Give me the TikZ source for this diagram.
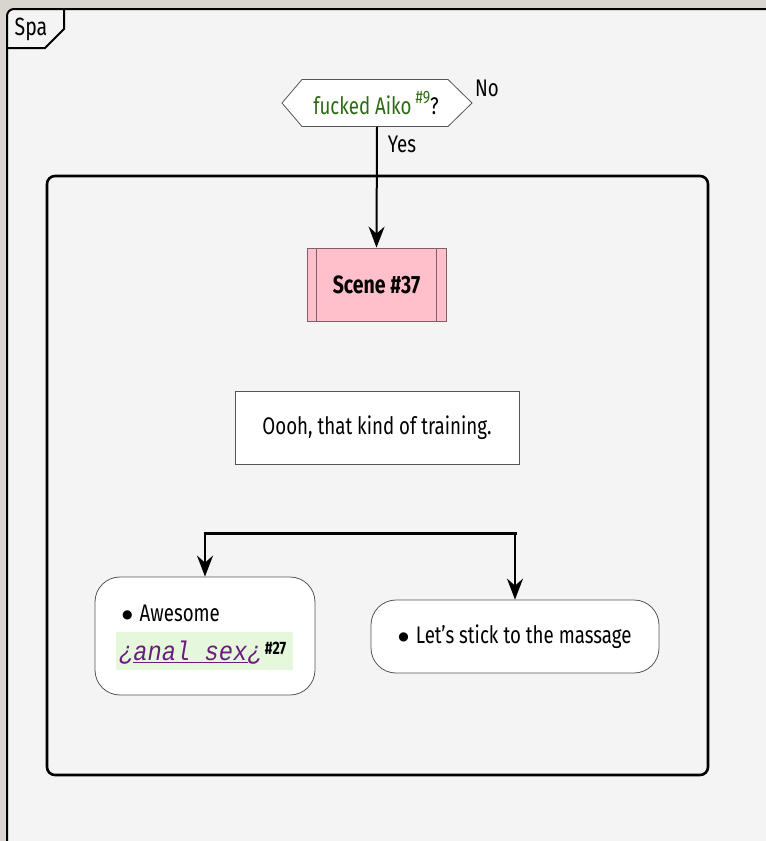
\documentclass[tikz,border=0pt]{standalone}
\usepackage{fontspec}
\setmainfont{Fira Sans}[FakeStretch=0.78]
\newfontfamily\monofont{Liberation Mono}[FakeStretch=0.88]
\newfontfamily\dejavu{DejaVu Sans}
\usetikzlibrary{arrows.meta}
\definecolor{bgc}{HTML}{F4F4F4}
\definecolor{outc}{HTML}{D8D4D0}
\definecolor{qgreen}{HTML}{2D6B12}
\definecolor{lpurple}{HTML}{6B1D7D}
\definecolor{hlgreen}{HTML}{E6F8DC}
\definecolor{scenepink}{HTML}{FFC0CB}
\definecolor{scenestroke}{HTML}{806068}
\definecolor{boxstroke}{HTML}{555555}
\newcommand{\bulletmark}{\raisebox{3pt}{\dejavu\fontsize{12}{12}\selectfont ●}}
\tikzset{
  arr/.style={line width=2pt, -{Stealth[length=21pt,width=16pt,inset=7pt]}},
  txt/.style={font=\fontsize{24}{28}\selectfont, inner sep=0pt},
  plainbox/.style={draw=boxstroke, fill=white, line width=0.8pt, inner sep=0pt, font=\fontsize{24}{28}\selectfont},
  choicebox/.style={draw=boxstroke, fill=white, line width=0.8pt, rounded corners=25pt, inner sep=0pt, font=\fontsize{24}{28}\selectfont},
  scenebox/.style={draw=scenestroke, fill=scenepink, line width=0.8pt, inner sep=0pt, font=\bfseries\fontsize{25}{28}\selectfont},
}
\begin{document}
\begin{tikzpicture}[x=1pt,y=-1pt]
\useasboundingbox (0,0) rectangle (766,841);
\fill[outc] (0,0) rectangle (766,841);
% outer frame
\draw[line width=2pt, fill=bgc, rounded corners=7pt] (7,9) rectangle (790,870);
\draw[line width=2pt] (7,48) -- (45,48) -- (64,29) -- (64,9);
\node[txt, font=\fontsize{25}{28}\selectfont] (spa) at (31,29) {Spa};
% inner frame
\draw[line width=2.6pt, rounded corners=8pt] (47,176) rectangle (708,775);
% question hexagon
\draw[draw=boxstroke, fill=white, line width=0.8pt] (282,103) -- (302,79.5) -- (448,79.5) -- (472,103) -- (448,126.5) -- (302,126.5) -- cycle;
\node[inner sep=0pt, minimum width=190pt, minimum height=47pt] (q) at (377,103) {};
\node[txt] (qt) at (376,103) {\textcolor{qgreen}{fucked Aiko\,\raisebox{0.42em}{\fontsize{18}{18}\selectfont\#9}}?};
\node[txt] (no) at (487,88) {No};
\node[txt] (yes) at (402,144) {Yes};
% scene
\node[scenebox, minimum width=139pt, minimum height=73pt] (scene) at (376.5,284.5) {Scene \#37};
\draw[scenestroke, line width=0.8pt] ([xshift=10pt]scene.north west) -- ([xshift=10pt]scene.south west);
\draw[scenestroke, line width=0.8pt] ([xshift=-10pt]scene.north east) -- ([xshift=-10pt]scene.south east);
\draw[arr] (q.south) -- (scene.north);
% text box
\node[plainbox, minimum width=284pt, minimum height=73pt] (say) at (377,427.5) {Oooh, that kind of training.};
% fork
\coordinate (fl) at (205,533);
\coordinate (fr) at (515,533);
\draw[line width=3pt] ([xshift=-1.5pt]fl) -- ([xshift=1.5pt]fr);
% choices
\node[choicebox, minimum width=220pt, minimum height=118pt] (c1) at (205,636) {};
\node[choicebox, minimum width=288pt, minimum height=73pt] (c2) at (515,636.5) {\bulletmark\hspace{7pt}Let's stick to the massage};
\draw[arr] (fl) -- (c1.north);
\draw[arr] (fr) -- (c2.north);
\node[txt, anchor=west] (aw) at (122,613) {\bulletmark\hspace{7pt}Awesome};
\node[fill=hlgreen, inner sep=0pt, minimum width=177pt, minimum height=38pt] (hl) at (204.5,651) {};
\node[inner sep=0pt, anchor=west] (anal) at (119,653) {\textcolor{lpurple}{\monofont\itshape\fontsize{27}{27}\selectfont ¿\underline{anal sex}¿}\hspace{3pt}\raisebox{0.6em}{\fontsize{18}{18}\selectfont\bfseries\#27}};
\end{tikzpicture}
\end{document}
